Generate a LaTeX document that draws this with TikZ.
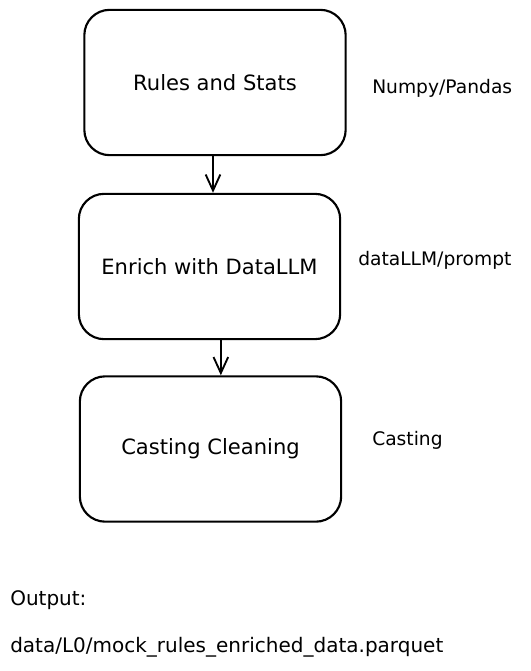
\documentclass[tikz,border=0pt]{standalone}
\usepackage{fontspec}
\setmainfont{DejaVu Sans}
\usetikzlibrary{arrows.meta,positioning}

\begin{document}
\begin{tikzpicture}[x=0.75pt, y=-0.75pt, font=\fontsize{14}{17}\selectfont]

\tikzstyle{box} = [rectangle, draw, line width=1.6pt, rounded corners=19pt, text centered, minimum width=196pt, minimum height=109pt, font=\fontsize{15.8}{18}\selectfont]
\tikzstyle{arrow} = [line width=1.4pt, -{Straight Barb[length=12pt, width=11pt, line width=1.4pt]}]
\tikzstyle{note} = [anchor=west, inner sep=0pt]

\useasboundingbox (0,0) rectangle (531,671);

% Boxes
\node (rules) [box] at (215, 82.5) {Rules and Stats};
\node (enrich) [box] at (209.5, 266.5) {Enrich with DataLLM};
\node (casting) [box] at (210.5, 449) {Casting Cleaning};

% Paths between boxes
\draw [arrow] ([xshift=-1.5pt]rules.south) -- ([xshift=-1.5pt]rules.south |- enrich.north);
\draw [arrow] ([xshift=8.5pt]enrich.south) -- ([xshift=8.5pt]enrich.south |- casting.north);

% Side notes
\node (numpy) [note] at (372, 88) {Numpy/Pandas};
\node (prompt) [note] at (358, 260) {dataLLM/prompt};
\node (cast) [note] at (372, 440) {Casting};

% Output
\node (out) [note, font=\fontsize{15}{18}\selectfont] at (10, 600) {Output:};
\node (file) [note, font=\fontsize{15}{18}\selectfont] at (10, 647) {data/L0/mock\_rules\_enriched\_data.parquet};

\end{tikzpicture}
\end{document}
